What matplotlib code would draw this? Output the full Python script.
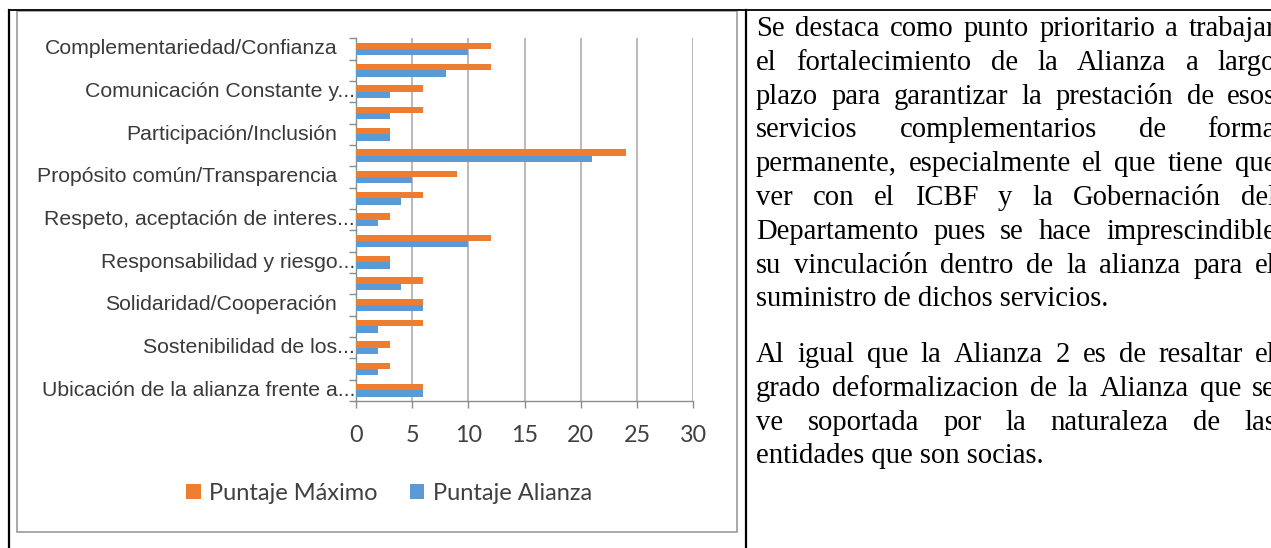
import matplotlib
matplotlib.use("Agg")
import matplotlib.pyplot as plt
import matplotlib.transforms as mtransforms
from matplotlib.lines import Line2D
from matplotlib.patches import Rectangle
import numpy as np

# ---------------- data ----------------
categories = [
    "Complementariedad/Confianza", "",
    "Comunicación Constante y...", "",
    "Participación/Inclusión", "",
    "Propósito común/Transparencia", "",
    "Respeto, aceptación de interes...", "",
    "Responsabilidad y riesgo...", "",
    "Solidaridad/Cooperación", "",
    "Sostenibilidad de los...", "",
    "Ubicación de la alianza frente a...",
]
puntaje_maximo = [12, 12, 6, 6, 3, 24, 9, 6, 3, 12, 3, 6, 6, 6, 3, 3, 6]
puntaje_alianza = [10, 8, 3, 3, 3, 21, 5, 4, 2, 10, 3, 4, 6, 2, 2, 2, 6]
series_names = ["Puntaje Máximo", "Puntaje Alianza"]
x_ticks = [0, 5, 10, 15, 20, 25, 30]

paragraph1 = [
    "Se destaca como punto prioritario a trabajar",
    "el fortalecimiento de la Alianza a largo",
    "plazo para garantizar la prestación de esos",
    "servicios complementarios de forma",
    "permanente, especialmente el que tiene que",
    "ver con el ICBF y la Gobernación del",
    "Departamento pues se hace imprescindible",
    "su vinculación dentro de la alianza para el",
    "suministro de dichos servicios.",
]
paragraph2 = [
    "Al igual que la Alianza 2 es de resaltar el",
    "grado deformalizacion de la Alianza que se",
    "ve soportada por la naturaleza de las",
    "entidades que son socias.",
]

# ---------------- styles ----------------
ORANGE = "#ED7D31"
BLUE = "#5B9BD5"
W, H = 1271, 548

fig = plt.figure(figsize=(W / 100, H / 100), dpi=100)
renderer = fig.canvas.get_renderer()


def fx(x):
    return x / W


def fy(y):
    return 1 - y / H


# table borders
fig.add_artist(Line2D([fx(9), fx(W)], [fy(10), fy(10)], color="black", lw=1.3))
fig.add_artist(Line2D([fx(9), fx(9)], [fy(10), fy(H)], color="black", lw=1.6))
fig.add_artist(Line2D([fx(746), fx(746)], [fy(10), fy(H)], color="black", lw=1.6))
# chart frame
fig.add_artist(Rectangle((fx(17), fy(532)), fx(737) - fx(17), fy(11) - fy(532),
                         fill=False, edgecolor="#9a9a9a", lw=1.2))

# ---------------- chart ----------------
ax = fig.add_axes([fx(356), fy(401), fx(693.3) - fx(356), fy(38.3) - fy(401)])
y = np.arange(len(categories))
bh = 0.3
ax.barh(y - bh / 2, puntaje_maximo, height=bh, color=ORANGE, label=series_names[0], zorder=3)
ax.barh(y + bh / 2, puntaje_alianza, height=bh, color=BLUE, label=series_names[1], zorder=3)

ax.set_xlim(0, 30)
ax.set_ylim(len(categories) - 0.5, -0.5)
ax.set_xticks(x_ticks)
ax.set_xticklabels([str(t) for t in x_ticks], fontfamily="Lato", fontsize=16.8, color="#404040")
ax.tick_params(axis="x", length=5, width=1, color="#8c8c8c", pad=12.5)
ax.set_yticks(np.arange(-0.5, len(categories), 1.0))
ax.set_yticklabels([])
ax.tick_params(axis="y", length=5, width=1, color="#8c8c8c")
ax.grid(axis="x", color="#a6a6a6", lw=1.1, zorder=0)
ax.set_axisbelow(True)
for s in ["top", "right"]:
    ax.spines[s].set_visible(False)
for s in ["left", "bottom"]:
    ax.spines[s].set_color("#8c8c8c")
    ax.spines[s].set_linewidth(1)

# category labels
trans = mtransforms.blended_transform_factory(ax.transAxes, ax.transData)
for i, lab in enumerate(categories):
    if not lab:
        continue
    if lab.endswith("..."):
        off = mtransforms.ScaledTranslation(-1 / 100, 0, fig.dpi_scale_trans)
    else:
        off = mtransforms.ScaledTranslation(-19 / 100, 0, fig.dpi_scale_trans)
    ax.text(0, i, lab, transform=trans + off, ha="right", va="center",
            fontfamily="Liberation Sans", fontsize=15.3, color="#3a3a3a")

# legend
handles, labels = ax.get_legend_handles_labels()
fig.legend(handles, labels, loc="center", bbox_to_anchor=(fx(389), fy(493)), ncol=2,
           frameon=False, prop={"family": "Lato", "size": 17},
           handlelength=0.62, handleheight=0.62, handletextpad=0.35, columnspacing=1.35,
           labelcolor="#404040")

# ---------------- right text ----------------
TXT = dict(fontfamily="Liberation Serif", fontsize=20.6, color="black")
X0, X1 = 756, 1276
LS = 33.8


def put_line(line, yb, justify):
    if not justify:
        fig.text(fx(X0), fy(yb), line, ha="left", va="baseline", **TXT)
        return
    words = line.split(" ")
    objs = [fig.text(0, fy(yb), w, ha="left", va="baseline", **TXT) for w in words]
    widths = [o.get_window_extent(renderer).width for o in objs]
    gap = (X1 - X0 - sum(widths)) / (len(words) - 1)
    x = X0
    for o, w in zip(objs, widths):
        o.set_x(fx(x))
        x += w + gap


yb = 36
for k, line in enumerate(paragraph1):
    put_line(line, yb + k * LS, k < len(paragraph1) - 1)
yb2 = 362
for k, line in enumerate(paragraph2):
    put_line(line, yb2 + k * LS, k < len(paragraph2) - 1)

fig.savefig("out.png", dpi=100)
